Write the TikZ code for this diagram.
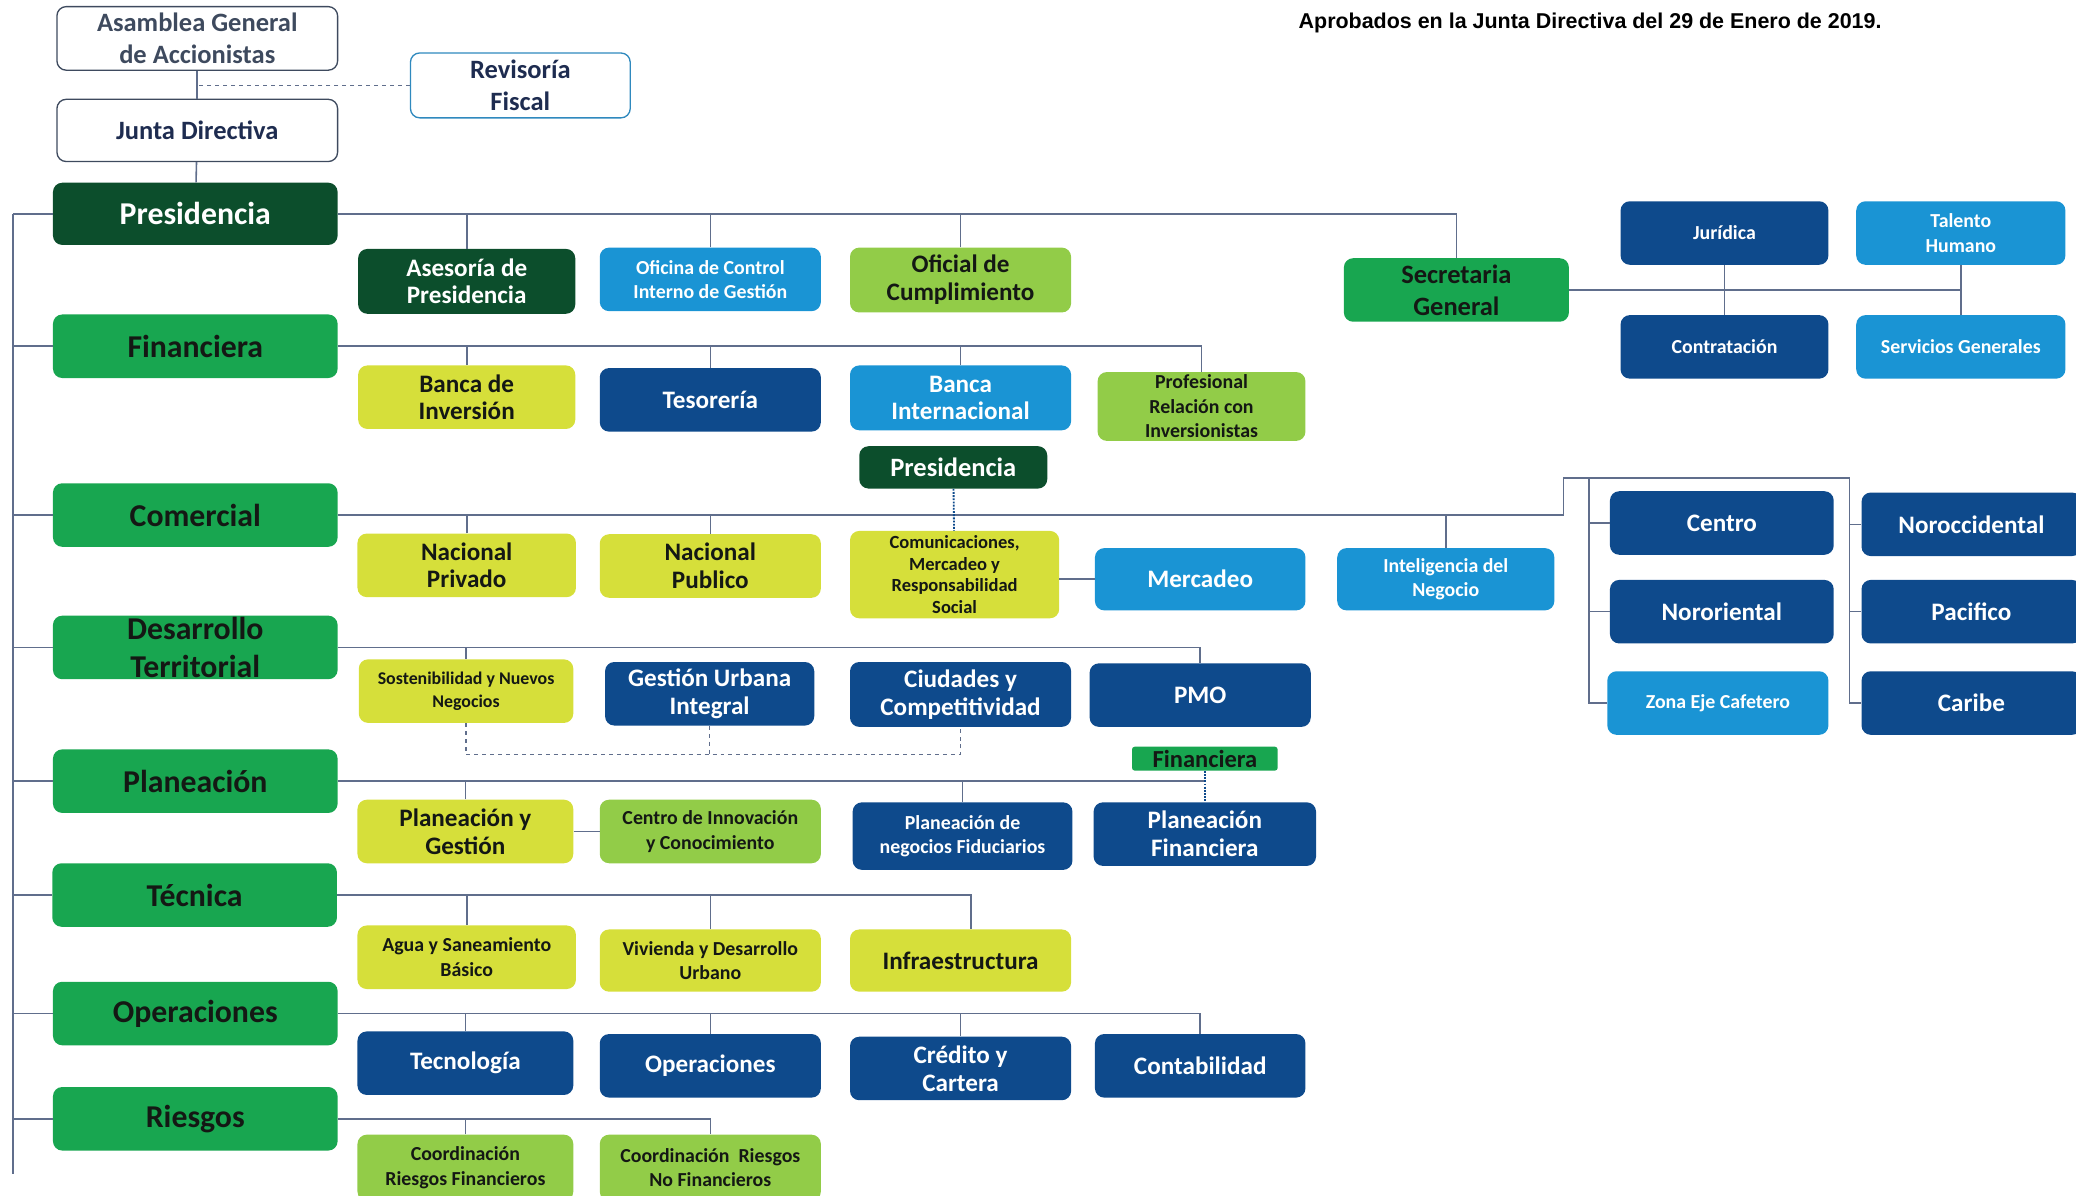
\documentclass[tikz,border=0pt]{standalone}
\usepackage{fontspec}
\setmainfont{Carlito}
\newfontfamily\titulofont{Liberation Sans}

\definecolor{verdeosc}{RGB}{12,78,44}
\definecolor{verde}{RGB}{24,166,80}
\definecolor{verdeclaro}{RGB}{146,204,72}
\definecolor{amarillo}{RGB}{214,223,58}
\definecolor{azulosc}{RGB}{14,74,140}
\definecolor{azulclaro}{RGB}{26,148,212}
\definecolor{gris}{RGB}{96,110,140}
\definecolor{grisazul}{RGB}{62,74,94}
\definecolor{navy}{RGB}{30,44,80}
\definecolor{negro}{RGB}{20,24,20}

\begin{document}
\begin{tikzpicture}[x=1pt, y=-1pt,
    caja/.style={rounded corners=7pt, align=center, inner sep=1pt, font=\bfseries\fontsize{19}{21}\selectfont},
    arriba/.style={caja, fill=white, minimum width=212pt, minimum height=48pt, line width=1pt, font=\bfseries\fontsize{20}{24}\selectfont},
    area/.style={caja, fill=verde, text=negro, minimum width=215pt, minimum height=48pt, font=\bfseries\fontsize{24}{28}\selectfont},
    sub/.style={caja, minimum width=165pt, minimum height=48pt},
    chica/.style={font=\bfseries\fontsize{15}{18.5}\selectfont},
    ama/.style={sub, fill=amarillo, text=negro},
    vcl/.style={sub, fill=verdeclaro, text=negro},
    vos/.style={sub, fill=verdeosc, text=white},
    azo/.style={sub, fill=azulosc, text=white},
    azc/.style={sub, fill=azulclaro, text=white},
    linea/.style={draw=gris, line width=1.2pt},
    punteada/.style={draw=azulosc, line width=1.4pt, densely dotted},
    rayada/.style={draw=gris, line width=1.1pt, dashed}]

\useasboundingbox (0,0) rectangle (1568,903);

% titulo
\node[font=\titulofont\bfseries\fontsize{16.2}{18}\selectfont] (titulo) at (1201,17) {Aprobados en la Junta Directiva del 29 de Enero de 2019.};

% cabecera
\node[arriba, draw=grisazul, text=grisazul] (asam) at (149,29) {Asamblea General\\de Accionistas};
\node[arriba, draw=grisazul, text=navy, minimum height=47pt] (junta) at (149,98.5) {Junta Directiva};
\node[arriba, draw=azulclaro!70!gris, text=navy, minimum width=166pt, minimum height=49pt] (revis) at (393,64.5) {Revisoría\\Fiscal};

% areas
\node[area, fill=verdeosc, text=white, minimum height=47pt] (pres) at (147.5,161.5) {Presidencia};
\node[area] (fin) at (147.5,261.5) {Financiera};
\node[area] (com) at (147.5,389) {Comercial};
\node[area] (des) at (147.5,489) {Desarrollo\\Territorial};
\node[area] (plan) at (147.5,590) {Planeación};
\node[area] (tec) at (147,676) {Técnica};
\node[area] (ope) at (147.5,765.5) {Operaciones};
\node[area] (rie) at (147.5,845) {Riesgos};

% presidencia
\node[vos, minimum width=164pt, minimum height=49pt] (ases) at (352.5,212.5) {Asesoría de\\Presidencia};
\node[azc, chica, minimum width=167pt] (ocig) at (536.5,211) {Oficina de Control\\Interno de Gestión};
\node[vcl, minimum width=167pt, minimum height=49pt] (ocum) at (725.5,211.5) {Oficial de\\Cumplimiento};
\node[sub, fill=verde, text=negro, minimum width=170pt, font=\bfseries\fontsize{20}{24}\selectfont] (secgen) at (1100,219) {Secretaria\\General};
\node[azo, chica, minimum width=157pt] (juri) at (1302.5,176) {Jurídica};
\node[azc, chica, minimum width=158pt] (tal) at (1481,176) {Talento\\Humano};
\node[azo, chica, minimum width=157pt] (contra) at (1302.5,262) {Contratación};
\node[azc, chica, minimum width=158pt] (serv) at (1481,262) {Servicios Generales};

% financiera
\node[ama, minimum width=164pt] (binv) at (352.5,300) {Banca de\\Inversión};
\node[azo, minimum width=167pt] (teso) at (536.5,302) {Tesorería};
\node[azc, minimum width=167pt, minimum height=49pt] (bint) at (725.5,300.5) {Banca\\Internacional};
\node[vcl, chica, minimum width=157pt, minimum height=52pt] (prof) at (907.5,307) {Profesional\\Relación con\\Inversionistas};

% comercial
\node[vos, minimum width=142pt, minimum height=32pt, font=\bfseries\fontsize{20}{22}\selectfont] (presmini) at (720,353) {Presidencia};
\node[ama, minimum width=165pt] (nacpriv) at (352.5,427) {Nacional\\Privado};
\node[ama, minimum width=167pt] (nacpub) at (536.5,427.5) {Nacional\\Publico};
\node[ama, minimum width=158pt, minimum height=66pt, font=\bfseries\fontsize{14}{16.5}\selectfont] (comu) at (721,434) {Comunicaciones,\\Mercadeo y\\Responsabilidad\\Social};
\node[azc, minimum width=159pt, minimum height=47pt] (merc) at (906.5,437.5) {Mercadeo};
\node[azc, chica, minimum width=164pt, minimum height=47pt] (intel) at (1092,437.5) {Inteligencia del\\Negocio};
\node[azo, minimum width=169pt] (centro) at (1300.5,395) {Centro};
\node[azo, minimum width=169pt] (noror) at (1300.5,462) {Nororiental};
\node[azc, chica, minimum width=167pt] (zona) at (1297.5,531) {Zona Eje Cafetero};
\node[azo, minimum width=166pt] (norocc) at (1489,396) {Noroccidental};
\node[azo, minimum width=166pt] (pacif) at (1489,462) {Pacifico};
\node[azo, minimum width=166pt] (caribe) at (1489,531) {Caribe};

% desarrollo territorial
\node[ama, minimum width=162pt, font=\bfseries\fontsize{13.5}{17}\selectfont] (sost) at (352,522) {Sostenibilidad y Nuevos\\Negocios};
\node[azo, minimum width=158pt] (gest) at (536,524) {Gestión Urbana\\Integral};
\node[azo, minimum width=167pt, minimum height=49pt] (ciud) at (725.5,524.5) {Ciudades y\\Competitividad};
\node[azo, minimum width=167pt] (pmo) at (906.5,525) {PMO};

% planeacion
\node[sub, fill=verde, text=negro, minimum width=110pt, minimum height=18pt, inner sep=0pt, rounded corners=2pt, font=\bfseries\fontsize{18.5}{19}\selectfont] (finmini) at (910,573) {Financiera};
\node[ama, minimum width=163pt] (pyg) at (351.5,628) {Planeación y\\Gestión};
\node[vcl, chica, minimum width=167pt] (cinn) at (536.5,628) {Centro de Innovación\\y Conocimiento};
\node[azo, chica, minimum width=166pt, minimum height=51pt] (pnf) at (727,631.5) {Planeación de\\negocios Fiduciarios};
\node[azo, minimum width=168pt] (pfin) at (910,630) {Planeación\\Financiera};

% tecnica
\node[ama, chica, minimum width=165pt] (agua) at (352.5,723) {Agua y Saneamiento\\Básico};
\node[ama, chica, minimum width=167pt, minimum height=47pt] (viv) at (536.5,725.5) {Vivienda y Desarrollo\\Urbano};
\node[ama, minimum width=167pt, minimum height=47pt] (infra) at (725.5,725.5) {Infraestructura};

% operaciones
\node[azo, minimum width=163pt] (tecno) at (351.5,803) {Tecnología};
\node[azo, minimum width=167pt] (opera) at (536.5,805) {Operaciones};
\node[azo, minimum width=167pt] (cred) at (725.5,807) {Crédito y\\Cartera};
\node[azo, minimum width=159pt] (conta) at (906.5,805) {Contabilidad};

% riesgos
\node[vcl, chica, minimum width=163pt, minimum height=50pt] (crf) at (351.5,882) {Coordinación\\Riesgos Financieros};
\node[vcl, chica, minimum width=167pt, minimum height=50pt] (crnf) at (536.5,882) {Coordinación~ Riesgos\\No Financieros};

% conectores cabecera
\draw[linea] (asam) -- (junta);
\draw[rayada] (revis.west) -- (revis.west -| asam.south);
\draw[linea] (junta) -- (pres);

% barra izquierda
\coordinate (bustop) at (10,161.5);
\coordinate (busbot) at (10,887);
\draw[linea] (bustop) -- (busbot);
\foreach \a in {pres,fin,com,des,plan,tec,ope,rie}
    \draw[linea] (\a.west) -- (\a.west -| bustop);

% presidencia
\draw[linea] (pres.east) -| (secgen.north);
\foreach \b in {ases,ocig,ocum}
    \draw[linea] (\b.north) -- (\b.north |- pres.east);
\draw[linea] (secgen.east) -- (secgen.east -| tal.south);
\draw[linea] (juri) -- (contra);
\draw[linea] (tal) -- (serv);

% financiera
\draw[linea] (fin.east) -| (prof.north);
\foreach \b in {binv,teso,bint}
    \draw[linea] (\b.north) -- (\b.north |- fin.east);

% comercial
\coordinate (comq) at (1181,361);
\coordinate (regizq) at (1200,361);
\coordinate (regder) at (1397,361);
\draw[linea] (com.east) -| (comq) -- (regder);
\foreach \b in {nacpriv,nacpub,intel}
    \draw[linea] (\b.north) -- (\b.north |- com.east);
\draw[punteada] (presmini) -- (comu);
\draw[linea] (merc.west) -- (merc.west -| comu.east);
\draw[linea] (regizq) |- (zona.west);
\draw[linea] (regder) |- (caribe.west);
\foreach \b in {centro,noror}
    \draw[linea] (\b.west) -- (\b.west -| regizq);
\foreach \b in {norocc,pacif}
    \draw[linea] (\b.west) -- (\b.west -| regder);

% desarrollo territorial
\draw[linea] (des.east) -| (pmo.north);
\draw[linea] (sost.north) -- (sost.north |- des.east);
\coordinate (rayas) at (0,570);
\draw[rayada] (sost.south) -- (sost.south |- rayas) -| (ciud.south);
\draw[rayada] (gest.south) -- (gest.south |- rayas);

% planeacion
\draw[linea] (plan.east) -- (plan.east -| pfin.north);
\foreach \b in {pyg,pnf}
    \draw[linea] (\b.north) -- (\b.north |- plan.east);
\draw[punteada] (finmini) -- (pfin);
\draw[linea] (pyg) -- (cinn);

% tecnica
\draw[linea] (tec.east) -| ([xshift=8pt]infra.north);
\foreach \b in {agua,viv}
    \draw[linea] (\b.north) -- (\b.north |- tec.east);

% operaciones
\draw[linea] (ope.east) -| (conta.north);
\foreach \b in {tecno,opera,cred}
    \draw[linea] (\b.north) -- (\b.north |- ope.east);

% riesgos
\draw[linea] (rie.east) -| (crnf.north);
\draw[linea] (crf.north) -- (crf.north |- rie.east);
\end{tikzpicture}
\end{document}
